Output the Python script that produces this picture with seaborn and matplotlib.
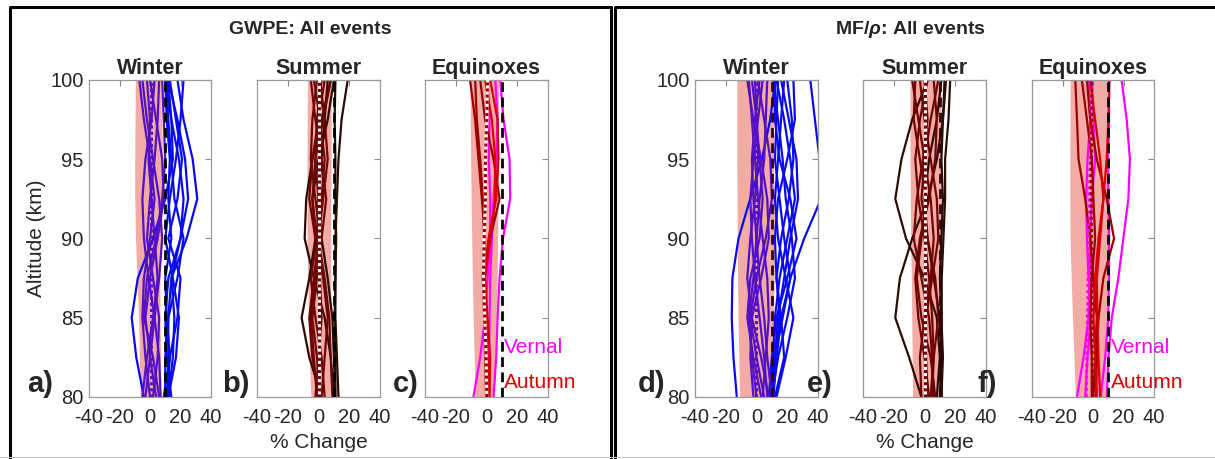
import numpy as np
import pandas as pd
import matplotlib
matplotlib.use("Agg")
import matplotlib.pyplot as plt
from matplotlib.lines import Line2D
import seaborn as sns

sns.set_style("white")
plt.rcParams["font.family"] = ["Liberation Sans", "DejaVu Sans"]
plt.rcParams["axes.unicode_minus"] = False
plt.rcParams["mathtext.fontset"] = "custom"
plt.rcParams["mathtext.it"] = "Liberation Sans:italic:bold"

# Altitude levels (km) shared by every profile
altitude = [80, 82.5, 85, 87.5, 90, 92.5, 95, 97.5, 100]

# ---------------- GWPE, winter ----------------
gwpe_winter_blue = [
    [13, 12, 12, 14, 24, 31, 28, 22, 18],
    [-4, -9, -12, -8, 2, 10, 15, 14, 12],
    [12, 15, 16, 14, 20, 22, 19, 14, 10],
    [11, 13, 18, 20, 12, 18, 21, 17, 13],
    [10, 10, 12, 18, 22, 16, 14, 12, 11],
    [14, 11, 10, 12, 20, 25, 23, 18, 12],
    [12, 17, 19, 15, 10, 13, 17, 20, 22],
    [9, 13, 11, 10, 14, 12, 13, 11, 10],
]
gwpe_winter_purple = [
    [-3, 0, 3, 6, 8, 6, 2, -2, -5],
    [4, 0, -3, 0, 5, 9, 8, 4, 0],
    [7, 6, 3, -1, -4, -5, -3, 1, 3],
    [-5, -2, 2, 5, 3, 1, -1, 0, -2],
    [2, 5, 6, 2, -2, 0, 3, 5, 6],
    [0, -3, -5, -4, 0, 3, 0, -4, -7],
    [6, 2, -4, -2, 4, 8, 10, 9, 8],
]
gwpe_winter_mean = [0.5, 0.5, 0.5, 0.5, 0.5, 0.5, 0.5, 0.5, 0.5]
gwpe_winter_lo = [-6.3, -7, -7.5, -8.5, -9.5, -10, -10, -9.8, -9.6]
gwpe_winter_hi = [6, 7, 6.5, 6.5, 7, 8.5, 8.5, 7.5, 7]

# ---------------- GWPE, summer ----------------
gwpe_summer_brown = [
    [11, 11, 10.5, 11, 11, 12, 13, 15, 19],
    [13, 12, 11, 11, 11.5, 11, 11, 10.5, 11],
    [10, 8, 4, -3, -9, -8, -4, 2, 8],
    [2, -6, -11, -6, -2, -4, 0, 6, 10],
    [11, 10, 9, 6, 2, 0, 2, 4, 6],
]
gwpe_summer_red = [
    [-1, -3, -5, -2, 2, 5, 2, -2, -5],
    [2, 4, 6, 3, -2, -6, -4, 0, 4],
    [-2, 0, 2, 1, -1, -4, -2, 3, 8],
    [0, -4, -6, -3, 0, 2, 4, 1, -3],
    [9, 8, 7, 4, 0, 3, 6, 4, 1],
    [1, -1, -4, -1, 1, -2, -5, -4, -1],
    [4, 2, -2, -5, -1, 0, -2, -1, 2],
]
gwpe_summer_mean = [0.5, 0.5, 0.5, 0.5, 0.5, 0.5, 0.5, 0.5, 0.5]
gwpe_summer_lo = [-5, -6, -6.5, -7, -7.5, -7.5, -7.5, -7.3, -7.2]
gwpe_summer_hi = [7.6, 7.8, 8, 8, 8, 8, 8.2, 8.2, 8.2]

# ---------------- GWPE, equinoxes ----------------
gwpe_equinox_vernal = [
    [4.6, 6.3, 7.2, 8.5, 10.7, 15.4, 15, 11.1, 8.9],
    [-8.5, -4.1, -0.9, 0.7, 2.4, 2.4, 1.5, 2, 0.7],
    [1.3, 1.5, 2, 2.4, 3.5, 4.6, 6.3, 7.2, 5.7],
]
gwpe_equinox_autumn_dark = [
    [0.7, 0.2, -0.2, -1.5, -0.9, -3, -5.2, -7.4, -10.7],
    [-0.2, 0.2, -0.9, -2, 2.4, 8.5, 4.6, -0.9, -4.1],
    [-0.2, -0.9, -1.5, -2.4, -1.5, -2.4, -4.1, -6.3, -7.4],
]
gwpe_equinox_autumn_bright = [
    [1.5, 0.7, -0.7, -2, 1.3, 6.3, 7.8, 7.2, 2.4],
    [2, 2.4, 0.7, -0.9, 2.4, 5.7, 5.7, 3.5, -0.9],
]
gwpe_equinox_mean = [0.2, -0.2, -1.1, -2, -1.5, -0.7, -0.7, 0.2, 0.7]
gwpe_equinox_lo = [-7.4, -8, -8.7, -9.2, -9.6, -10, -10.3, -10.5, -10.6]
gwpe_equinox_hi = [4.6, 5.5, 6.3, 7, 7.2, 7.5, 7.8, 7.8, 7.8]

# ---------------- MF/rho, winter ----------------
mf_winter_blue = [
    [56, 54, 52, 50, 48, 45, 41, 38, 35],
    [10, 13, 16, 22, 31, 42, 48, 55, 60],
    [-12.8, -15, -16.1, -15.7, -11.7, -4.1, 3.5, 8.9, 12.2],
    [10, 11, 12, 15, 20, 25, 22, 18, 13],
    [9, 12, 14, 18, 22, 27, 26, 21, 16],
    [11, 13, 15, 13, 16, 21, 24, 23, 20],
    [10, 14, 20, 25, 23, 19, 17, 14, 11],
    [9, 12, 17, 22, 18, 15, 12, 13, 14],
    [12, 18, 16, 13, 12, 14, 20, 25, 24],
    [13, 19, 24, 19, 14, 12, 14, 16, 18],
    [8, 10, 13, 20, 26, 22, 15, 12, 12],
]
mf_winter_purple = [
    [-2, -4, -3, 3, 8, 7, 3, -2, -6],
    [3, -2, -6, -4, 2, 4, 2, 0, -3],
    [7, 5, 2, -1, -3, -4, -2, 1, 4],
    [5, 0, -4, 0, 6, 10, 9, 5, 1],
    [8, 3, -3, -6, -4, -1, 1, 0, -1],
    [10, 7, 5, 2, 0, 2, 5, 6, 7],
    [4, 6, 8, 7, 4, 1, -1, -3, -5],
    [0, -3, -5, -2, 0, -2, -3, -1, 2],
]
mf_winter_mean = [0, 0, 0, 0, 0, 0, 0, 0, 0]
mf_winter_lo = [-11, -11.5, -12, -12.3, -12.5, -12.7, -12.8, -12.8, -12.8]
mf_winter_hi = [10, 10.5, 11, 11.5, 12, 11.5, 11, 11, 11]

# ---------------- MF/rho, summer ----------------
mf_summer_brown = [
    [8, 10, 8, 0, -12, -19, -15, -8, 2],
    [-2, -10, -19, -16, -8, 2, 8, 12, 14],
    [11.2, 11.2, 11.2, 11.2, 12.3, 13.4, 13.4, 15.6, 16.7],
    [11, 12, 11, 10, 11, 12, 11, 12, 13],
    [10, 11, 10, 6, 2, 0, 3, 8, 11],
]
mf_summer_red = [
    [-2, -3, 0, 4, 6, 4, 0, -4, -8],
    [4, 6, 5, 3, 0, -4, -6, -3, 2],
    [3, 0, -4, -6, -3, 3, 7, 8, 6],
    [2, 1, 1, 5, 9, 8, 4, 0, -3],
    [7, 4, -2, -5, -2, 1, -3, -7, -6],
    [5, 6, 9, 7, 2, -2, 0, 4, 9],
    [6, 5, 3, -2, -7, -5, -1, 2, 0],
]
mf_summer_mean = [0.5, 0.5, 0.5, 0.5, 0.5, 0.5, 0.5, 0.5, 0.5]
mf_summer_lo = [-7.7, -8, -8.3, -8.6, -9, -9.2, -9.4, -9.4, -9.4]
mf_summer_hi = [11, 11, 10.8, 10.6, 10.6, 10.6, 10.6, 10.6, 10.6]

# ---------------- MF/rho, equinoxes ----------------
mf_equinox_vernal = [
    [9, 10.1, 12.3, 16.6, 19.9, 23.2, 24.2, 22.1, 18.8],
    [5, 8, 10, 10.5, 10.5, 10, 10, 10.5, 10.5],
    [-10.5, -6.2, -2.9, -2.3, -1.8, -0.8, 1.4, 0.3, -0.8],
    [-5.1, -3.6, -1.4, -2.9, -4, -4.5, -3.6, -1.8, -2.9],
]
mf_equinox_autumn_dark = [
    [0.3, 1.4, 2.5, 0.3, -1.8, -5.1, -9.5, -10.5, -11.6],
    [2.1, 2.5, 3.6, 6.8, 13.8, 9, 2.5, -1.8, -4],
    [-0.8, -0.8, -1.8, -0.8, 1.4, 0.3, -0.8, -4, -7.3],
]
mf_equinox_autumn_bright = [
    [2.5, 1.4, 0.3, 1.4, 3.6, 6.8, 4.7, 1.4, -1.8],
    [4.7, 3.6, 2.9, 2.5, 4.7, 6.8, 9, 10.1, 10.8],
]
mf_equinox_vernal_mean = [-4.5, -4, -3.6, -3.2, -2.7, -2.3, -1.8, -1.4, -1.4]
mf_equinox_autumn_mean = [-0.3, -0.5, -0.8, -1, -1, -1.2, -1, -0.8, -0.8]
mf_equinox_lo = [-11.6, -12.5, -13.5, -14.3, -15, -15.2, -15.2, -15, -15]
mf_equinox_hi = [8, 8.5, 9, 10, 11, 11, 10, 9.5, 9]

seasons = ["Winter", "Summer", "Equinoxes"]
panel_letters = ["a)", "b)", "c)", "d)", "e)", "f)"]
x_ticks = [-40, -20, 0, 20, 40]
y_ticks = [80, 85, 90, 95, 100]
threshold = 10

BLUE = "#0a0af0"
PURPLE = "#5211c4"
BROWN = "#2b0c04"
DARKRED = "#6e0404"
MAGENTA = "#ff00ff"
AUT_DARK = "#9a0000"
AUT_BRIGHT = "#d80000"
BAND = "#f3aba6"
TXT = "#262626"

W, H = 1215, 459
fig = plt.figure(figsize=(W / 100, H / 100), dpi=100)


def px_axes(x0, x1, y0=80, y1=397):
    return fig.add_axes([x0 / W, 1 - y1 / H, (x1 - x0) / W, (y1 - y0) / H])


def profiles(ax, curves, color, lw=1.6):
    rows = []
    for i, c in enumerate(curves):
        for a, v in zip(altitude, c):
            rows.append({"alt": a, "pct": v, "curve": i})
    df = pd.DataFrame(rows)
    sns.lineplot(data=df, x="pct", y="alt", units="curve", estimator=None,
                 orient="y", color=color, lw=lw, ax=ax, legend=False)


def mean_line(ax, values, color, white_under=True):
    if white_under:
        ax.plot(values, altitude, color="white", lw=2.2, zorder=4)
    ax.plot(values, altitude, color=color, lw=2.2, ls=(0, (1, 1)), zorder=5)


def style(ax, show_y):
    ax.set_xlim(-40, 40)
    ax.set_ylim(80, 100)
    ax.set_xticks(x_ticks)
    ax.set_yticks(y_ticks)
    ax.set_xlabel("")
    ax.set_ylabel("")
    ax.tick_params(direction="in", top=True, right=True, length=4, width=0.8,
                   color="#8a8a8a", labelsize=14.5, labelcolor=TXT,
                   labelleft=show_y, pad=4)
    ax.tick_params(axis="x", pad=8)
    for s in ax.spines.values():
        s.set_color("#9a9a9a")
        s.set_linewidth(0.9)


axes_px = [(89, 211), (257, 380), (425, 548), (695, 818), (863, 986), (1032, 1154)]
axs = [px_axes(a, b) for a, b in axes_px]

bands = [(gwpe_winter_lo, gwpe_winter_hi), (gwpe_summer_lo, gwpe_summer_hi),
         (gwpe_equinox_lo, gwpe_equinox_hi), (mf_winter_lo, mf_winter_hi),
         (mf_summer_lo, mf_summer_hi), (mf_equinox_lo, mf_equinox_hi)]
for ax, (lo, hi) in zip(axs, bands):
    ax.fill_betweenx(altitude, lo, hi, color=BAND, lw=0, zorder=0)

# GWPE panels
profiles(axs[0], gwpe_winter_blue, BLUE)
profiles(axs[0], gwpe_winter_purple, PURPLE)
mean_line(axs[0], gwpe_winter_mean, PURPLE, white_under=False)

profiles(axs[1], gwpe_summer_brown, BROWN)
profiles(axs[1], gwpe_summer_red, DARKRED)
mean_line(axs[1], gwpe_summer_mean, DARKRED)

profiles(axs[2], gwpe_equinox_vernal, MAGENTA)
profiles(axs[2], gwpe_equinox_autumn_dark, AUT_DARK)
profiles(axs[2], gwpe_equinox_autumn_bright, AUT_BRIGHT)
mean_line(axs[2], gwpe_equinox_mean, AUT_DARK)

# MF/rho panels
profiles(axs[3], mf_winter_blue, BLUE)
profiles(axs[3], mf_winter_purple, PURPLE)
mean_line(axs[3], mf_winter_mean, PURPLE, white_under=False)

profiles(axs[4], mf_summer_brown, BROWN)
profiles(axs[4], mf_summer_red, DARKRED)
mean_line(axs[4], mf_summer_mean, DARKRED)

profiles(axs[5], mf_equinox_vernal, MAGENTA)
profiles(axs[5], mf_equinox_autumn_dark, AUT_DARK)
profiles(axs[5], mf_equinox_autumn_bright, AUT_BRIGHT)
mean_line(axs[5], mf_equinox_vernal_mean, MAGENTA, white_under=False)
mean_line(axs[5], mf_equinox_autumn_mean, AUT_DARK, white_under=False)

dash_colors = ["black", "black", "black", "#2e0303", "#2e0303", "black"]
for i, ax in enumerate(axs):
    ax.axvline(threshold, color=dash_colors[i], lw=2, ls=(0, (3.5, 2)), zorder=6)
    style(ax, show_y=i in (0, 3))
    ax.set_title(seasons[i % 3], fontsize=15.5, fontweight="bold", pad=4)

axs[0].set_ylabel("Altitude (km)", fontsize=15, color=TXT, labelpad=3)

for ax in (axs[2], axs[5]):
    ax.text(11.5, 83.1, "Vernal", color=MAGENTA, fontsize=15, va="center",
            ha="left", clip_on=False)
    ax.text(11.5, 80.9, "Autumn", color="#e00000", fontsize=15, va="center",
            ha="left", clip_on=False)

# Panel letters
letter_x = [27, 222, 393, 638, 807, 978]
for lx, lab in zip(letter_x, panel_letters):
    fig.text(lx / W, 1 - 392 / H, lab, fontsize=21, fontweight="bold",
             ha="left", va="baseline")

# Block titles and shared x labels
fig.text(310 / W, 1 - 30 / H, "GWPE: All events", fontsize=14,
         fontweight="bold", ha="center", va="center")
fig.text(910 / W, 1 - 30 / H, r"MF/$\rho$: All events", fontsize=14,
         fontweight="bold", ha="center", va="center")
for cx in (318.5, 924.5):
    fig.text(cx / W, 1 - 443 / H, "% Change", fontsize=15, color=TXT,
             ha="center", va="center")

# Frames around the two blocks
def fline(xs, ys, **kw):
    fig.add_artist(Line2D([x / W for x in xs], [1 - y / H for y in ys],
                          transform=fig.transFigure, **kw))

frame = dict(color="black", lw=2.2, solid_capstyle="projecting")
fline([9.5, 9.5, 610.5, 610.5], [470, 6.5, 6.5, 470], **frame)
fline([615.5, 615.5, 1230], [470, 6.5, 6.5], **frame)
fline([0, W], [456.5, 456.5], color="#c8c8c8", lw=0.8)

fig.savefig("out.png", dpi=100)
